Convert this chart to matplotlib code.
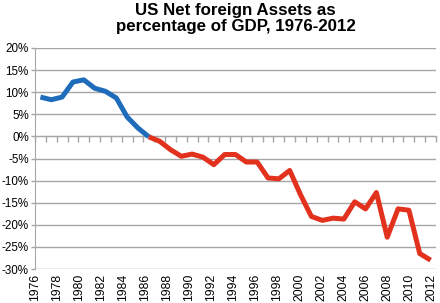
import matplotlib.pyplot as plt
from matplotlib.transforms import blended_transform_factory

plt.rcParams['font.family'] = ['Liberation Sans', 'DejaVu Sans']

years = list(range(1976, 2013))
nfa_pct = [8.9, 8.3, 8.9, 12.3, 12.8, 10.9, 10.2, 8.7, 4.4, 1.9, -0.1,
           -1.1, -3.0, -4.5, -4.0, -4.7, -6.4, -4.1, -4.1, -5.8, -5.8,
           -9.4, -9.6, -7.7, -13.2, -18.1, -19.0, -18.5, -18.7, -14.8, -16.4,
           -12.7, -22.8, -16.4, -16.7, -26.5, -28.0]
split_year = 1986
y_ticks = list(range(-30, 25, 5))

blue = '#1f6cbb'
red = '#e2311d'
grey = '#a6a6a6'

fig = plt.figure(figsize=(4.4, 3.03), dpi=100)
ax = fig.add_axes([35 / 440, 1 - 269 / 303, 401 / 440, 221 / 303])

idx = list(range(len(years)))
k = years.index(split_year)
ax.plot(idx[:k + 1], nfa_pct[:k + 1], color=blue, lw=3.6, solid_capstyle='butt', zorder=3)
ax.plot(idx[k:], nfa_pct[k:], color=red, lw=3.6, solid_capstyle='butt', zorder=3)

ax.set_xlim(-0.5, len(years) - 0.5)
ax.set_ylim(-30, 20)
ax.set_yticks(y_ticks)
ax.set_yticklabels([f'{v}%' for v in y_ticks], fontsize=8.4)
ax.yaxis.grid(True, color=grey, lw=1)
ax.set_axisbelow(True)
ax.tick_params(axis='y', length=3, color=grey, width=1, pad=1.5)

# category axis sits on the zero line, ticks between categories
ax.spines['bottom'].set_position(('data', 0))
ax.spines['bottom'].set_color(grey)
ax.spines['left'].set_color(grey)
ax.spines['top'].set_visible(False)
ax.spines['right'].set_visible(False)
ax.set_xticks([i - 0.5 for i in range(len(years) + 1)])
ax.set_xticklabels([])
ax.tick_params(axis='x', length=4, color=grey, width=1)

# year labels along the bottom, every other year
trans = blended_transform_factory(ax.transData, ax.transAxes)
for i, yr in enumerate(years):
    if yr % 2 == 0:
        ax.text(-0.5 + 1.016 * i, -0.022, str(yr), transform=trans, rotation=90,
                ha='center', va='top', fontsize=8.7)

fig.text(0.535, 0.99, 'US Net foreign Assets as\npercentage of GDP, 1976-2012',
         ha='center', va='top', fontsize=12.2, fontweight='bold', linespacing=1.08)

fig.savefig('out.png', dpi=100)
